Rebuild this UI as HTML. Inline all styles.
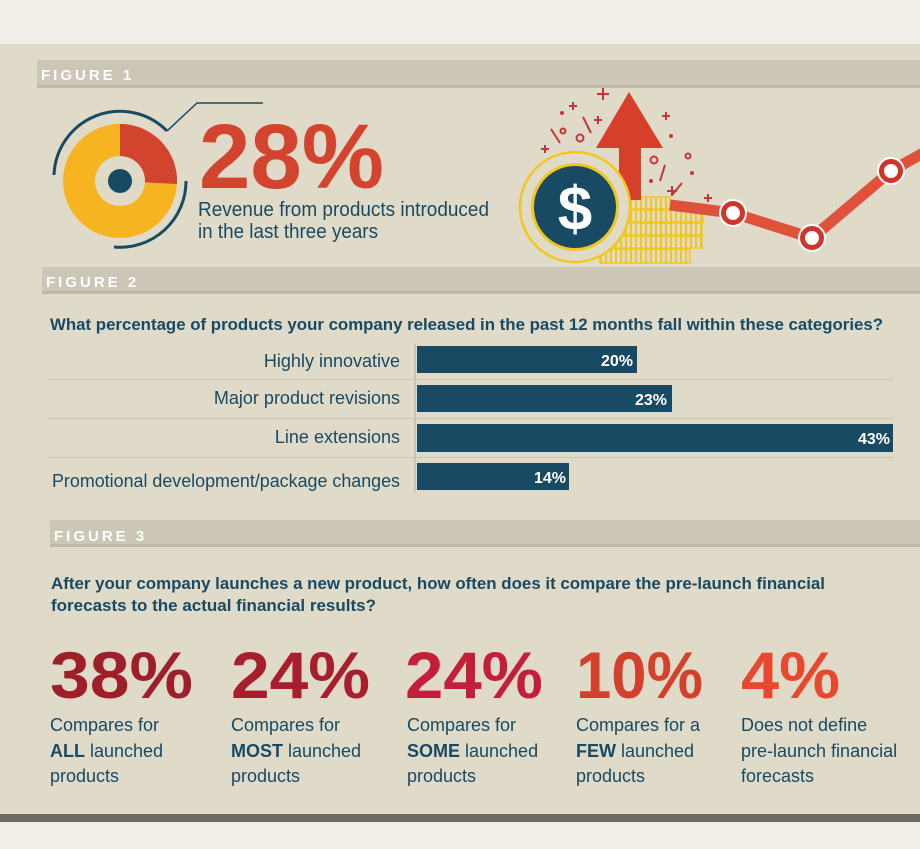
<!DOCTYPE html>
<html><head><meta charset="utf-8"><style>
html,body{margin:0;padding:0;background:#f1eee7;}
svg{display:block;}
text{font-family:"Liberation Sans",Arial,sans-serif;}
</style></head><body>
<svg width="920" height="849" viewBox="0 0 920 849" xmlns="http://www.w3.org/2000/svg">
<defs>
<pattern id="st" width="5" height="10" patternUnits="userSpaceOnUse"><rect x="0" y="0" width="2" height="10" fill="#f3c61f"/></pattern>
</defs>
<rect x="0" y="0" width="920" height="849" fill="#f1eee7"/>
<rect x="0" y="812" width="920" height="10" fill="#6d6a63"/>
<rect x="0" y="44" width="920" height="770" fill="#e0dac9"/>
<!-- figure bars -->
<rect x="37" y="60" width="883" height="26" fill="#cbc6b6"/>
<rect x="37" y="85" width="883" height="3" fill="#bdb8a8"/>
<text x="41" y="80" font-size="15" font-weight="bold" fill="#fff" letter-spacing="3">FIGURE 1</text>
<rect x="42" y="267" width="878" height="25" fill="#cbc6b6"/>
<rect x="42" y="291" width="878" height="3" fill="#bdb8a8"/>
<text x="46" y="287" font-size="15" font-weight="bold" fill="#fff" letter-spacing="3">FIGURE 2</text>
<rect x="50" y="520" width="870" height="25" fill="#cbc6b6"/>
<rect x="50" y="544" width="870" height="3" fill="#bdb8a8"/>
<text x="54" y="541" font-size="15" font-weight="bold" fill="#fff" letter-spacing="3">FIGURE 3</text>

<!-- Figure 1 donut -->
<path d="M 54 175 A 66 66 0 0 1 167 131" fill="none" stroke="#184a63" stroke-width="3"/>
<path d="M 186 181 A 66 66 0 0 1 114 247" fill="none" stroke="#184a63" stroke-width="3"/>
<circle cx="120" cy="181" r="57" fill="#f6b421"/>
<path d="M120 181 L120 124 A57 57 0 0 1 177 184 Z" fill="#d2442d"/>
<circle cx="120" cy="181" r="25" fill="#e0dac9"/>
<circle cx="120" cy="181" r="12" fill="#184a63"/>
<polyline points="167,131 197,103 263,103" fill="none" stroke="#184a63" stroke-width="1.5"/>
<text x="199" y="188" font-size="92" font-weight="bold" fill="#d2442d" textLength="185" lengthAdjust="spacingAndGlyphs">28%</text>
<text x="198" y="216" font-size="20" fill="#184a63" textLength="291" lengthAdjust="spacingAndGlyphs">Revenue from products introduced</text>
<text x="198" y="238" font-size="20" fill="#184a63" textLength="180" lengthAdjust="spacingAndGlyphs">in the last three years</text>

<!-- illustration -->
<g fill="url(#st)" stroke="#f3c61f" stroke-width="1.5">
<rect x="610" y="197" width="60" height="12"/><rect x="615" y="210" width="88" height="12"/>
<rect x="610" y="223" width="92" height="12"/><rect x="605" y="236" width="97" height="12"/>
<rect x="600" y="249" width="90" height="14"/>
</g>
<polygon points="629,92 663,148 641,148 641,200 619,200 619,148 596,148" fill="#d6402b"/>
<g stroke="#c6353a" stroke-width="2" fill="none">
<path d="M603 88v12M597 94h12M573 102v8M569 106h8M598 116v8M594 120h8M666 112v8M662 116h8M545 145v8M541 149h8M672 186v10M667 191h10M708 194v8M704 198h8"/>
<path d="M551 129l9 14M583 117l8 16M665 165l-5 16M682 183l-10 12"/>
<circle cx="563" cy="131" r="2.5"/><circle cx="580" cy="138" r="3.5"/><circle cx="654" cy="160" r="3.5"/><circle cx="688" cy="156" r="2.5"/>
</g>
<g fill="#c6353a"><circle cx="562" cy="113" r="2"/><circle cx="671" cy="136" r="2"/><circle cx="651" cy="181" r="2"/><circle cx="692" cy="173" r="2"/></g>
<circle cx="575" cy="207" r="55" fill="#e0dac9" stroke="#f3c61f" stroke-width="2.5"/>
<circle cx="575" cy="207" r="44" fill="#f3c61f"/>
<circle cx="575" cy="207" r="41" fill="#184a63"/>
<text x="575" y="230" font-size="62" font-weight="bold" fill="#fff" text-anchor="middle">$</text>
<polyline points="670,205 733,213 812,238 891,171 925,152" fill="none" stroke="#e0513c" stroke-width="11" stroke-linejoin="round"/>
<g stroke="#fff" stroke-width="2" fill="#d0342b">
<circle cx="733" cy="213" r="13"/><circle cx="812" cy="238" r="13"/><circle cx="891" cy="171" r="13"/>
</g>
<g fill="#fff"><circle cx="733" cy="213" r="7"/><circle cx="812" cy="238" r="7"/><circle cx="891" cy="171" r="7"/></g>

<!-- Figure 2 -->
<text x="50" y="330" font-size="17" font-weight="bold" fill="#184a63" textLength="833" lengthAdjust="spacingAndGlyphs">What percentage of products your company released in the past 12 months fall within these categories?</text>
<rect x="414" y="344" width="2" height="148" fill="#c9c3b2"/>
<g stroke="#cbc5b4" stroke-width="1">
<line x1="48" y1="379.5" x2="893" y2="379.5"/><line x1="48" y1="418.5" x2="893" y2="418.5"/><line x1="48" y1="457.5" x2="893" y2="457.5"/>
</g>
<g font-size="18" fill="#184a63" text-anchor="end">
<text x="400" y="367">Highly innovative</text>
<text x="400" y="404">Major product revisions</text>
<text x="400" y="443">Line extensions</text>
<text x="400" y="487" textLength="348" lengthAdjust="spacingAndGlyphs">Promotional development/package changes</text>
</g>
<g fill="#184a63">
<rect x="417" y="346" width="220" height="27"/><rect x="417" y="385" width="255" height="27"/>
<rect x="417" y="424" width="476" height="28"/><rect x="417" y="463" width="152" height="27"/>
</g>
<g font-size="16" font-weight="bold" fill="#fff" text-anchor="end">
<text x="633" y="366">20%</text><text x="667" y="405">23%</text><text x="890" y="444">43%</text><text x="566" y="483">14%</text>
</g>

<!-- Figure 3 -->
<text x="51" y="589" font-size="17" font-weight="bold" fill="#184a63" textLength="774" lengthAdjust="spacingAndGlyphs">After your company launches a new product, how often does it compare the pre-launch financial</text>
<text x="51" y="611" font-size="17" font-weight="bold" fill="#184a63" textLength="325" lengthAdjust="spacingAndGlyphs">forecasts to the actual financial results?</text>
<g font-size="66" font-weight="bold">
<text x="50" y="698" fill="#9e1f2a" textLength="143" lengthAdjust="spacingAndGlyphs">38%</text>
<text x="231" y="698" fill="#a81e2c" textLength="139" lengthAdjust="spacingAndGlyphs">24%</text>
<text x="405" y="698" fill="#c31f3a" textLength="138" lengthAdjust="spacingAndGlyphs">24%</text>
<text x="576" y="698" fill="#d3412c" textLength="127" lengthAdjust="spacingAndGlyphs">10%</text>
<text x="741" y="698" fill="#e9482f" textLength="99" lengthAdjust="spacingAndGlyphs">4%</text>
</g>
<g font-size="18" fill="#184a63">
<text x="50" y="731">Compares for</text><text x="50" y="757"><tspan font-weight="bold">ALL</tspan> launched</text><text x="50" y="782">products</text>
<text x="231" y="731">Compares for</text><text x="231" y="757"><tspan font-weight="bold">MOST</tspan> launched</text><text x="231" y="782">products</text>
<text x="407" y="731">Compares for</text><text x="407" y="757"><tspan font-weight="bold">SOME</tspan> launched</text><text x="407" y="782">products</text>
<text x="576" y="731">Compares for a</text><text x="576" y="757"><tspan font-weight="bold">FEW</tspan> launched</text><text x="576" y="782">products</text>
<text x="741" y="731">Does not define</text><text x="741" y="757">pre-launch financial</text><text x="741" y="782">forecasts</text>
</g>
</svg>
</body></html>
